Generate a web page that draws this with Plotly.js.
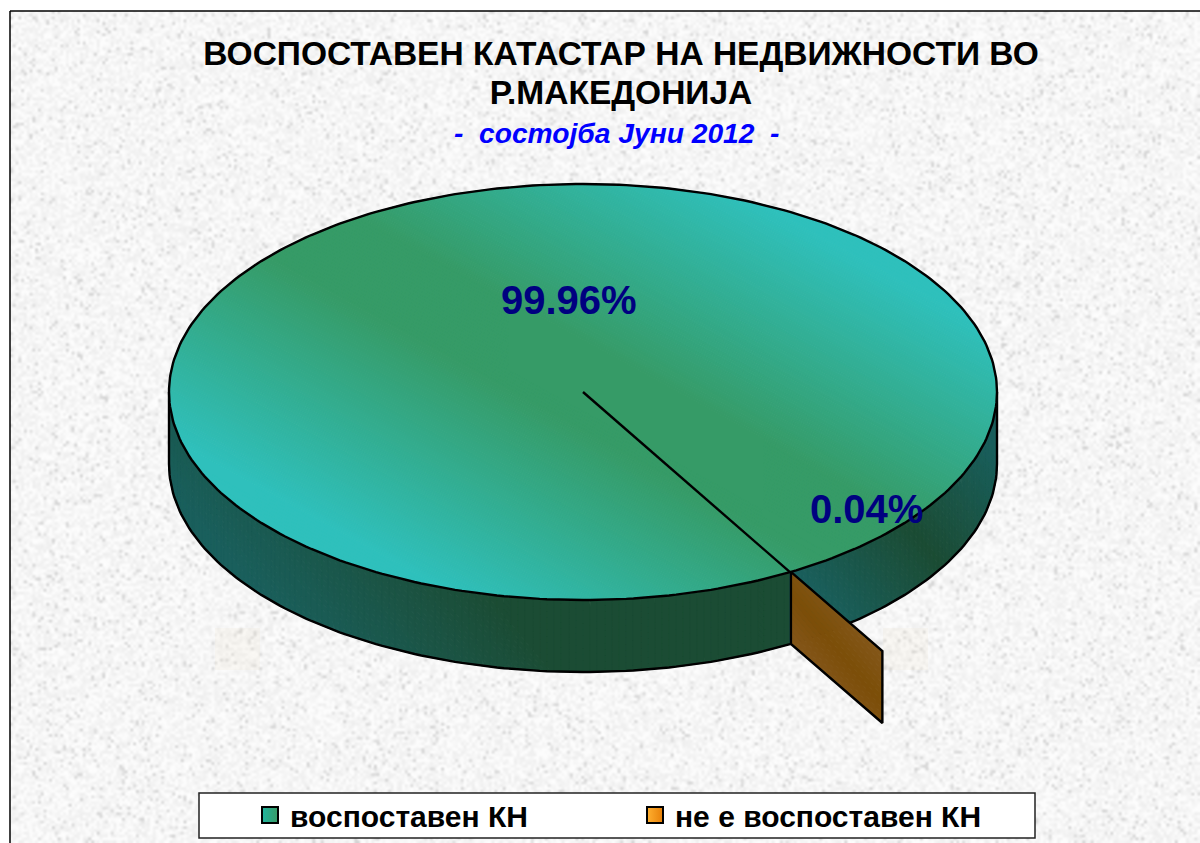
<!DOCTYPE html>
<html><head><meta charset="utf-8">
<script src="https://cdn.plot.ly/plotly-3.0.1.min.js"></script>
<style>html,body{margin:0;padding:0;background:#fff;overflow:hidden}#g{width:1200px;height:843px}</style>
</head><body><div id="g"></div>
<script>
const categories = ["воспоставен КН", "не е воспоставен КН"];
const values = [99.96, 0.04];
const titleLines = ["ВОСПОСТАВЕН КАТАСТАР НА НЕДВИЖНОСТИ ВО", "Р.МАКЕДОНИЈА"];
const subtitle = "-  состојба Јуни 2012  -";

// pie geometry (pixel-scaled axes)
const cx = 583, cy = 392, rx = 414, ry = 208, depth = 72, rotation = 60, explode = 0.44;
const FONT = '"Liberation Sans", Arial, sans-serif';
const axisWall = [0.77, -0.64], axisTop = [0.482, -0.876];
const ptAt = (deg, k = 1, dz = 0) => {
  const a = deg * Math.PI / 180;
  return [cx + k * rx * Math.cos(a), cy + k * ry * Math.sin(a) + dz];
};
const lerp = (c1, c2, t) => {
  t = Math.max(0, Math.min(1, t));
  const c = c1.map((v, i) => Math.round(v + (c2[i] - v) * t));
  return `rgb(${c[0]},${c[1]},${c[2]})`;
};
function clipHalf(poly, f) {
  const out = [];
  for (let i = 0; i < poly.length; i++) {
    const a = poly[i], b = poly[(i + 1) % poly.length], fa = f(a), fb = f(b);
    if (fa >= 0) out.push(a);
    if ((fa >= 0) !== (fb >= 0)) {
      const t = fa / (fa - fb);
      out.push([a[0] + (b[0] - a[0]) * t, a[1] + (b[1] - a[1]) * t]);
    }
  }
  return out;
}
function bandTraces(polys, axis, colorAt, step) {
  const U = q => (q[0] - cx) * axis[0] + (q[1] - cy) * axis[1];
  const groups = new Map();
  for (let u = -560; u < 560; u += step) {
    const color = colorAt(u + step / 2);
    let g = groups.get(color);
    if (!g) { g = { x: [], y: [] }; groups.set(color, g); }
    polys.forEach(p => {
      let c = clipHalf(p, q => U(q) - u);
      if (c.length) c = clipHalf(c, q => u + step - U(q));
      if (c.length > 2) {
        c.forEach(q => { g.x.push(q[0]); g.y.push(q[1]); });
        g.x.push(c[0][0], null); g.y.push(c[0][1], null);
      }
    });
  }
  const tr = [];
  groups.forEach((g, color) => {
    if (g.x.length) tr.push({ type: 'scatter', mode: 'lines', x: g.x, y: g.y, fill: 'toself', fillcolor: color,
      line: { color, width: 1 }, connectgaps: false, showlegend: false, hoverinfo: 'skip' });
  });
  return tr;
}
const range = (a, b, s = 1) => { const o = []; for (let d = a; d <= b + 1e-9; d += s) o.push(d); return o; };
const wallQuads = (a, b) => range(a, b - 1).map(d => [ptAt(d), ptAt(d + 1), ptAt(d + 1, 1, depth), ptAt(d, 1, depth)]);
const outline = (pts, w = 2.4) => ({ type: 'scatter', mode: 'lines', x: pts.map(p => p[0]), y: pts.map(p => p[1]),
  line: { color: '#000', width: w }, showlegend: false, hoverinfo: 'skip' });

const total = values.reduce((a, b) => a + b, 0);
const pct = values.map(v => (v / total * 100).toFixed(2) + '%');
const sweepSmall = values[1] / total * 360;
const bStart = rotation;                 // main slice / small slice boundary
const bEnd = rotation - sweepSmall;

const TEAL = [47, 192, 188], GREEN = [54, 155, 103];
const DTEAL = [26, 95, 92], DGREEN = [27, 76, 52];
const BR1 = [124, 78, 8], BR2 = [137, 93, 40];

const topPoly = range(0, 359).map(d => ptAt(d));
let traces = [];
traces = traces.concat(bandTraces(wallQuads(bStart, 180), axisWall, u => lerp(DGREEN, DTEAL, (-u - 200) / 180), 4));
traces = traces.concat(bandTraces(wallQuads(0, bStart), axisWall, u => lerp(DGREEN, DTEAL, Math.abs(u - 165) / 115), 4));
traces.push(outline(range(0, 180).map(d => ptAt(d, 1, depth))));
traces.push(outline([ptAt(0), ptAt(0, 1, depth)]));
traces.push(outline([ptAt(180), ptAt(180, 1, depth)]));

// radial face of the exploded slice
const rim = ptAt(bEnd), tip = ptAt(bEnd, 1 + explode), rimB = ptAt(bEnd, 1, depth), tipB = ptAt(bEnd, 1 + explode, depth);
const face = [rim, tip, tipB, rimB];
const faceU = q => (q[0] - cx) * axisWall[0] + (q[1] - cy) * axisWall[1];
const mid = (faceU(tip) + faceU(rimB)) / 2;
traces = traces.concat(bandTraces([face], axisWall, u => lerp(BR1, BR2, Math.abs(u - mid) / 60), 4));
traces.push(outline(face.concat([face[0]])));

// top of the pie
traces = traces.concat(bandTraces([topPoly], axisTop, u => lerp(GREEN, TEAL, (Math.abs(u - 5) - 40) / 205), 3));
traces.push(outline(range(0, 360).map(d => ptAt(d))));
traces.push(outline([[cx, cy], ptAt(bStart)]));

// legend entries
const legendColors = [['#1fb5a0', '#3a9b66'], ['#ffb030', '#e88008']];
categories.forEach((name, i) => traces.push({
  type: 'scatter', mode: 'markers', x: [null], y: [null], name,
  marker: { symbol: 'square', size: 17, color: legendColors[i][0], line: { color: '#000', width: 2 },
    gradient: { type: 'horizontal', color: legendColors[i][1] } },
  hoverinfo: 'skip'
}));

// paper texture (decorative background only)
function texture(W, H) {
  const k = 2.8, sw = Math.ceil(W / k), sh = Math.ceil(H / k);
  const s = document.createElement('canvas'); s.width = sw; s.height = sh;
  const sc = s.getContext('2d'), im = sc.createImageData(sw, sh);
  let seed = 12345;
  const rnd = () => (seed = (seed * 1664525 + 1013904223) >>> 0) / 4294967296;
  for (let i = 0; i < sw * sh; i++) {
    const r = rnd();
    let v = 238 + 12 * rnd();
    if (r < 0.06) v = 212 + 16 * rnd();
    else if (r < 0.3) v = 252;
    im.data[i * 4] = im.data[i * 4 + 1] = im.data[i * 4 + 2] = v; im.data[i * 4 + 3] = 255;
  }
  sc.putImageData(im, 0, 0);
  const c = document.createElement('canvas'); c.width = W; c.height = H;
  const g = c.getContext('2d'); g.imageSmoothingEnabled = true; g.imageSmoothingQuality = 'high';
  g.drawImage(s, 0, 0, W, H);
  g.fillStyle = 'rgba(240,225,205,0.18)';
  g.fillRect(205, 617, 45, 42); g.fillRect(873, 617, 45, 42);
  return c.toDataURL('image/png');
}

const annotation = (text, x, y, size, color, extra) => Object.assign({ text, x, y, xref: 'x', yref: 'y', showarrow: false,
  xanchor: 'center', yanchor: 'middle', font: { family: FONT, size, color } }, extra || {});

const layout = {
  width: 1200, height: 843, margin: { l: 0, r: 0, t: 0, b: 0 },
  paper_bgcolor: '#fff', plot_bgcolor: 'rgba(0,0,0,0)', hovermode: false,
  xaxis: { range: [0, 1200], visible: false, fixedrange: true },
  yaxis: { range: [843, 0], visible: false, fixedrange: true },
  title: { text: titleLines.map(t => '<b><span style="font-size:33.5px">' + t + '</span></b>').join('<br>'), x: 621 / 1200, xanchor: 'center',
    y: 1 - 65 / 843, yanchor: 'middle', xref: 'paper', yref: 'paper', automargin: false,
    font: { family: FONT, size: 30, color: '#000' } },
  images: [{ source: texture(1190, 832), xref: 'x', yref: 'y', x: 10, y: 11, sizex: 1190, sizey: 832,
    xanchor: 'left', yanchor: 'top', sizing: 'stretch', layer: 'below' }],
  shapes: [
    { type: 'line', xref: 'x', yref: 'y', x0: 10, x1: 1200, y0: 11, y1: 11, line: { color: '#000', width: 1.5 } },
    { type: 'line', xref: 'x', yref: 'y', x0: 10, x1: 10, y0: 11, y1: 843, line: { color: '#000', width: 1.5 } },
    { type: 'rect', xref: 'x', yref: 'y', x0: 199, x1: 1035, y0: 793, y1: 838, fillcolor: '#fff', line: { color: '#222', width: 1.5 }, layer: 'above' }
  ],
  annotations: [
    annotation('<b><i>' + subtitle.replace(/ /g, '\u00a0') + '</i></b>', 617, 133, 28.2, '#0000ff'),
    annotation('<b>' + pct[0] + '</b>', 569, 300, 40, '#000080'),
    annotation('<b>' + pct[1] + '</b>', 866, 509, 40, '#000080')
  ],
  showlegend: true,
  legend: { orientation: 'h', x: 250 / 1200, xanchor: 'left', y: 1 - 815 / 843, yanchor: 'middle',
    bgcolor: 'rgba(0,0,0,0)', borderwidth: 0, entrywidth: 340, entrywidthmode: 'pixels', itemclick: false, itemdoubleclick: false,
    font: { family: FONT, size: 30, color: '#000', weight: 'bold' } }
};
Plotly.newPlot('g', traces, layout, { displayModeBar: false, staticPlot: true });
</script></body></html>
